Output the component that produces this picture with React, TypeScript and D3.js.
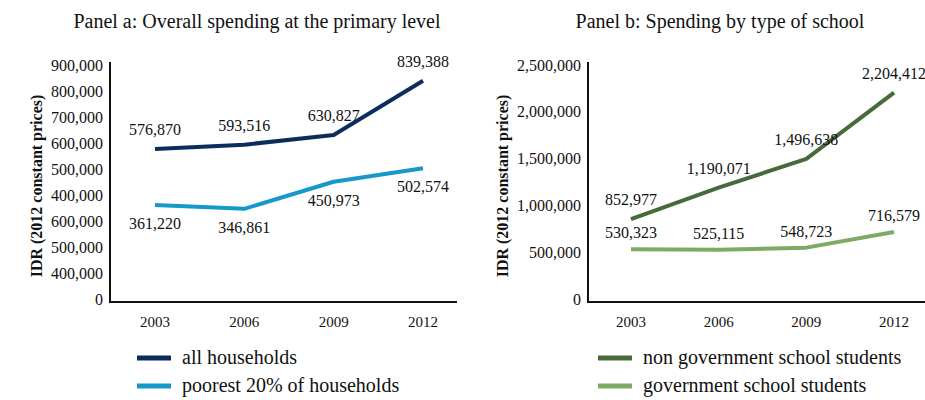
import React from 'react';
import * as d3 from 'd3';

const years = ['2003', '2006', '2009', '2012'];

const allHouseholds = [576870, 593516, 630827, 839388];
const poorest20 = [361220, 346861, 450973, 502574];

const nonGovStudents = [852977, 1190071, 1496638, 2204412];
const govStudents = [530323, 525115, 548723, 716579];

// tick labels as printed in the source (panel a has the odd repeated ones)
const leftTickLabels = ['0', '400,000', '500,000', '600,000', '400,000', '500,000', '600,000', '700,000', '800,000', '900,000'];
const rightTickLabels = ['0', '500,000', '1,000,000', '1,500,000', '2,000,000', '2,500,000'];

const FONT = '"Liberation Serif", "DejaVu Serif", serif';
const fmt = d3.format(',');

type Series = { name: string; values: number[]; color: string; labelDy: number };

function Panel(props: {
  title: string;
  titleX: number;
  axisX: number;
  axisRight: number;
  xRange: [number, number];
  yMax: number;
  tickStep: number;
  tickLabels: string[];
  yTitleX: number;
  series: Series[];
  legendX: number;
}) {
  const { title, titleX, axisX, axisRight, xRange, yMax, tickStep, tickLabels, yTitleX, series, legendX } = props;
  const axisBottom = 302;

  const x = d3.scalePoint<string>().domain(years).range(xRange);
  const y = d3.scaleLinear().domain([0, yMax]).range([299, 65]);
  const ticks = d3.range(0, yMax + 1, tickStep);

  const line = d3.line<number>()
    .x((d, i) => x(years[i]) as number)
    .y(d => y(d));

  return (
    <g fontFamily={FONT}>
      <text x={titleX} y={28} textAnchor="middle" fontSize={20} fill="#111">{title}</text>

      {ticks.map((t, i) => (
        <text key={'yt' + i} x={axisX - 7} y={y(t)} dy="0.35em" textAnchor="end" fontSize={16} fill="#111">
          {tickLabels[i]}
        </text>
      ))}
      <text
        transform={`translate(${yTitleX},${186}) rotate(-90)`}
        textAnchor="middle"
        dy="0.35em"
        fontSize={16}
        fontWeight="bold"
        fill="#111"
      >
        IDR (2012 constant prices)
      </text>

      {years.map(yr => (
        <text key={'xt' + yr} x={x(yr)} y={327} textAnchor="middle" fontSize={15} fill="#111">{yr}</text>
      ))}

      {series.map(s => (
        <path key={s.name} d={line(s.values) || ''} fill="none" stroke={s.color} strokeWidth={4} strokeLinejoin="round" />
      ))}

      {series.map(s =>
        s.values.map((v, i) => (
          <text
            key={s.name + i}
            x={x(years[i])}
            y={y(v) + s.labelDy}
            textAnchor="middle"
            fontSize={16}
            fill="#111"
          >
            {fmt(v)}
          </text>
        ))
      )}

      <line x1={axisX} x2={axisX} y1={62} y2={axisBottom} stroke="#111" strokeWidth={2} />
      <line x1={axisX - 1} x2={axisRight} y1={axisBottom} y2={axisBottom} stroke="#111" strokeWidth={2} />

      {series.map((s, i) => (
        <g key={'lg' + s.name} transform={`translate(${legendX},${358 + i * 28})`}>
          <line x1={0} x2={34} y1={0} y2={0} stroke={s.color} strokeWidth={5} />
          <text x={45} y={0} dy="0.3em" fontSize={20} fill="#111">{s.name}</text>
        </g>
      ))}
    </g>
  );
}

export default function App() {
  return (
    <svg width={925} height={400} style={{ position: 'absolute', left: 0, top: 0, background: '#fff' }}>
      <Panel
        title="Panel a: Overall spending at the primary level"
        titleX={257}
        axisX={110}
        axisRight={457}
        xRange={[155, 423]}
        yMax={900000}
        tickStep={100000}
        tickLabels={leftTickLabels}
        yTitleX={36}
        legendX={137}
        series={[
          { name: 'all households', values: allHouseholds, color: '#0b2d5c', labelDy: -14 },
          { name: 'poorest 20% of households', values: poorest20, color: '#1699c9', labelDy: 24 },
        ]}
      />
      <Panel
        title="Panel b: Spending by type of school"
        titleX={720}
        axisX={588}
        axisRight={930}
        xRange={[631, 894]}
        yMax={2500000}
        tickStep={500000}
        tickLabels={rightTickLabels}
        yTitleX={502}
        legendX={598}
        series={[
          { name: 'non government school students', values: nonGovStudents, color: '#476a3b', labelDy: -14 },
          { name: 'government school students', values: govStudents, color: '#7dab66', labelDy: -11 },
        ]}
      />
    </svg>
  );
}
